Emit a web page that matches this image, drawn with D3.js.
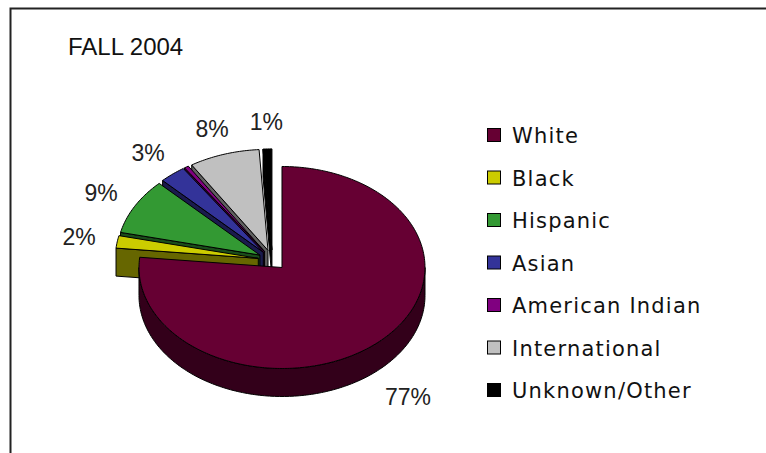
<!DOCTYPE html>
<html><head><meta charset="utf-8">
<script src="https://cdn.jsdelivr.net/npm/d3@7"></script>
<style>body{margin:0;background:#fff}</style>
</head><body>
<svg id="c" width="766" height="453"></svg>
<script>
// ---- data ----
const title = "FALL 2004";
const categories = ["White","Black","Hispanic","Asian","American Indian","International","Unknown/Other"];
const values = [77, 2, 9, 3, 0.5, 8, 1];
const labels = ["77%","2%","9%","3%","","8%","1%"];
const topColors = ["#660033","#CCCC00","#339933","#333399","#800080","#C0C0C0","#000000"];
const sideColors = ["#33001A","#666600","#1A4D1A","#1A1A4D","#400040","#606060","#000000"];

// ---- layout ----
const svg = d3.select("#c");
const O = {x: 272.4, y: 260};
const RX = 143, RY = 101, DEPTH = 28, EXPLODE = 0.1;
const gx = d3.scaleLinear().domain([-1, 1]).range([O.x - RX, O.x + RX]);
const gy = d3.scaleLinear().domain([-1, 1]).range([O.y - RY, O.y + RY]);

// frame
svg.append("path").attr("d", "M10.5,460V8.5H770").attr("fill", "none")
  .attr("stroke", "#222").attr("stroke-width", 2);

svg.append("text").attr("x", 68).attr("y", 55).text(title)
  .attr("font-family", "Liberation Sans, Arial, sans-serif").attr("font-size", 24).attr("fill", "#111");

const pie = d3.pie().sort(null).startAngle(0).endAngle(2 * Math.PI);
const arcs = pie(values).map((d, i) => {
  const mid = (d.startAngle + d.endAngle) / 2;
  return {i, a: d.startAngle, b: d.endAngle, mid,
    u: EXPLODE * Math.sin(mid), v: -EXPLODE * Math.cos(mid)};
});

function pt(s, th, r, dz = 0) {
  return [gx(s.u + r * Math.sin(th)), gy(s.v - r * Math.cos(th)) + dz];
}
function arcPts(s, a, b, dz = 0) {
  const n = Math.max(2, Math.ceil((b - a) / (Math.PI / 180)) + 1);
  return d3.range(n).map(k => pt(s, a + (b - a) * k / (n - 1), 1, dz));
}
const line = d3.line();
const faceG = svg.append("g").attr("stroke", "#000").attr("stroke-width", 1).attr("stroke-linejoin", "round");

const order = arcs.slice().sort((p, q) => (-Math.cos(p.mid)) - (-Math.cos(q.mid)));
order.forEach(s => {
  const apex = pt(s, 0, 0), apexB = pt(s, 0, 0, DEPTH);
  const side = sideColors[s.i], top = topColors[s.i];
  if (Math.sin(s.a) < -1e-6) {
    const p = pt(s, s.a, 1), pb = pt(s, s.a, 1, DEPTH);
    faceG.append("path").attr("d", line([apex, p, pb, apexB]) + "Z").attr("fill", side);
  }
  if (Math.sin(s.b) > 1e-6) {
    const p = pt(s, s.b, 1), pb = pt(s, s.b, 1, DEPTH);
    faceG.append("path").attr("d", line([apex, p, pb, apexB]) + "Z").attr("fill", side);
  }
  const fa = Math.max(s.a, Math.PI / 2), fb = Math.min(s.b, 3 * Math.PI / 2);
  if (fb > fa) {
    const t = arcPts(s, fa, fb), bt = arcPts(s, fa, fb, DEPTH).reverse();
    faceG.append("path").attr("d", line(t.concat(bt)) + "Z").attr("fill", side);
  }
  faceG.append("path").attr("d", line([apex].concat(arcPts(s, s.a, s.b))) + "Z").attr("fill", top);
});

// labels: box pushed outward from the rim
const lab = svg.append("g").attr("font-family", "Liberation Sans, Arial, sans-serif")
  .attr("font-size", 23).attr("fill", "#222").attr("text-anchor", "middle");
arcs.forEach(s => {
  if (!labels[s.i]) return;
  const t = lab.append("text").attr("dy", "0.35em").text(labels[s.i]);
  const w = t.node().getComputedTextLength(), h = 18;
  const sx = Math.sin(s.mid), sy = -Math.cos(s.mid);
  const front = sy > 0;
  const cx = gx(s.u) + (RX + 22 + w / 2) * sx;
  const cy = gy(s.v) + (RY + 18 + h / 2) * sy + (front ? DEPTH + 6 : 0);
  t.attr("x", cx).attr("y", cy);
});

// legend
const ly = d3.scalePoint().domain(categories).range([128, 383]);
const leg = svg.append("g");
categories.forEach((c, i) => {
  leg.append("rect").attr("x", 487.5).attr("y", ly(c) + 0.5).attr("width", 13).attr("height", 13)
    .attr("fill", topColors[i]).attr("stroke", "#000").attr("stroke-width", 1);
  leg.append("text").attr("x", 512).attr("y", ly(c) + 15).text(c)
    .attr("font-family", "DejaVu Sans, sans-serif").attr("font-size", 21)
    .attr("letter-spacing", 1.2).attr("fill", "#111");
});
</script>
</body></html>
